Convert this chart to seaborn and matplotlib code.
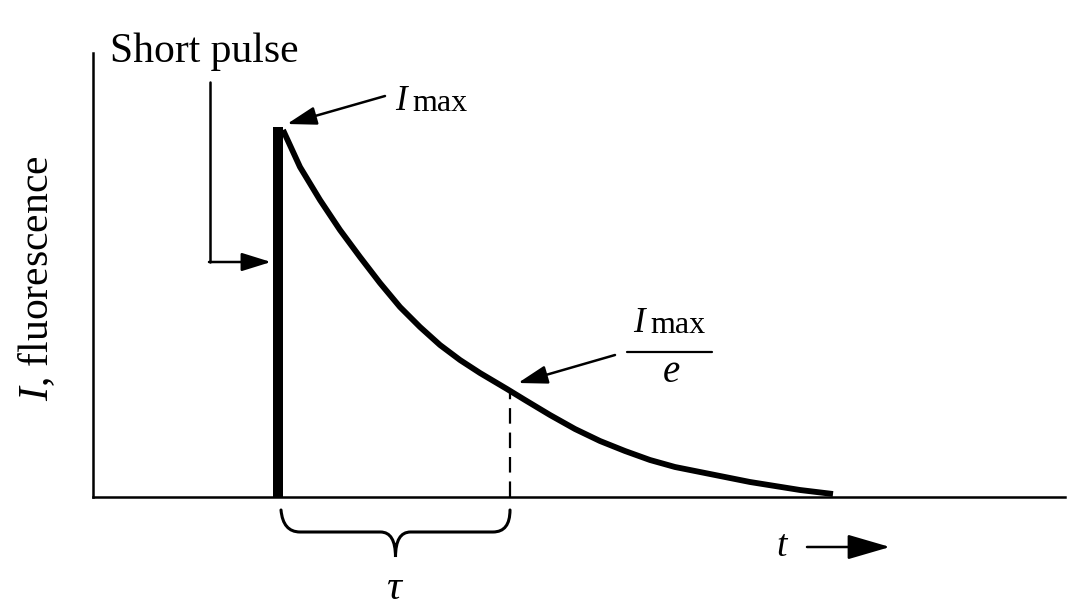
import numpy as np
import matplotlib
matplotlib.use("Agg")
import matplotlib.pyplot as plt
import seaborn as sns
from matplotlib.path import Path
from matplotlib.patches import PathPatch

# decay curve (time, intensity in arbitrary units)
t_decay = [1.90, 2.07, 2.27, 2.47, 2.67, 2.87, 3.07, 3.27, 3.47, 3.67,
           3.87, 4.14, 4.32, 4.57, 4.82, 5.07, 5.32, 5.57, 5.82, 6.07,
           6.32, 6.57, 6.82, 7.07, 7.40]
I_decay = [3.67, 3.30, 2.97, 2.67, 2.40, 2.14, 1.90, 1.70, 1.52, 1.37,
           1.24, 1.08, 0.97, 0.82, 0.68, 0.56, 0.46, 0.37, 0.30, 0.25,
           0.20, 0.15, 0.11, 0.07, 0.03]

t_pulse = 1.85     # excitation pulse position
I_max = 3.70       # pulse / peak height
t_tau = 4.17       # lifetime marker
I_tau = 1.07       # intensity at tau (Imax/e)

sns.set_theme(style="white")
plt.rcParams["font.family"] = ["Liberation Serif", "DejaVu Serif"]
plt.rcParams["text.color"] = "black"
plt.rcParams["mathtext.fontset"] = "custom"
plt.rcParams["mathtext.rm"] = "Liberation Serif"
plt.rcParams["mathtext.it"] = "Liberation Serif:italic"

fig = plt.figure(figsize=(10.8, 6.1), dpi=100)
ax = fig.add_axes([93 / 1080, 113 / 610, 972 / 1080, 444 / 610])

# pulse + decay
ax.bar([t_pulse], [I_max], width=0.10, color="black", linewidth=0)
sns.lineplot(x=t_decay, y=I_decay, ax=ax, color="black", linewidth=4.2,
             solid_capstyle="butt", solid_joinstyle="round")
ax.plot([t_tau, t_tau], [0, I_tau], color="black", lw=1.6,
        dashes=(7, 4))

ax.set_xlim(0, 9.72)
ax.set_ylim(0, 4.44)
ax.set_xticks([])
ax.set_yticks([])
sns.despine(ax=ax)
for s in ("left", "bottom"):
    ax.spines[s].set_color("black")
    ax.spines[s].set_linewidth(1.8)

arrow = dict(arrowstyle="-|>,head_length=0.9,head_width=0.28",
             mutation_scale=20, lw=1.8, color="black",
             shrinkA=0, shrinkB=0)

# short pulse label and its bent arrow
ax.text(0.17, 4.35, "Short pulse", fontsize=30, ha="left", va="baseline",
        clip_on=False)
ax.plot([1.17, 1.17], [4.15, 2.35], color="black", lw=1.8, clip_on=False)
ax.annotate("", xy=(t_pulse - 0.07, 2.35), xytext=(1.16, 2.35),
            arrowprops=arrow, annotation_clip=False)

# I_max label
ax.text(3.02, 3.87, "$I$", fontsize=25, ha="left", va="baseline")
ax.text(3.19, 3.86, "max", fontsize=23, ha="left", va="baseline")
ax.annotate("", xy=(t_pulse + 0.09, 3.73), xytext=(2.92, 4.01),
            arrowprops=arrow, annotation_clip=False)

# I_max / e label
ax.text(5.40, 1.65, "$I$", fontsize=25, ha="left", va="baseline")
ax.text(5.57, 1.64, "max", fontsize=23, ha="left", va="baseline")
ax.plot([5.34, 6.19], [1.45, 1.45], color="black", lw=1.6)
ax.text(5.78, 1.15, "$e$", fontsize=28, ha="center", va="baseline")
ax.annotate("", xy=(t_tau + 0.08, 1.14), xytext=(5.22, 1.42),
            arrowprops=arrow, annotation_clip=False)

# brace under the axis from pulse to tau
l, r = t_pulse + 0.03, t_tau
m = (l + r) / 2
top, flat, tip = -0.13, -0.35, -0.60
verts = [(l, top), (l + 0.02, flat), (l + 0.19, flat),
         (m - 0.15, flat), (m, flat), (m, tip),
         (m, flat), (m + 0.15, flat),
         (r - 0.17, flat), (r, flat), (r, top)]
codes = [Path.MOVETO, Path.CURVE3, Path.CURVE3,
         Path.LINETO, Path.CURVE3, Path.CURVE3,
         Path.CURVE3, Path.CURVE3,
         Path.LINETO, Path.CURVE3, Path.CURVE3]
ax.add_patch(PathPatch(Path(verts, codes), fill=False, lw=2.2,
                       color="black", clip_on=False, capstyle="round"))
ax.text(m, -0.92, r"$\tau$", fontsize=30, ha="center", va="center")

# time arrow
ax.text(6.90, -0.50, "$t$", fontsize=27, ha="center", va="center")
ax.annotate("", xy=(7.97, -0.50), xytext=(7.14, -0.50),
            arrowprops=dict(arrowstyle="-|>,head_length=1.2,head_width=0.35",
                            mutation_scale=22, lw=1.8, color="black",
                            shrinkA=0, shrinkB=0),
            annotation_clip=False)

# y axis label
ax.text(-0.56, 2.19, "$I$, fluorescence", fontsize=30, rotation=90,
        ha="center", va="center")

fig.savefig("out.png", dpi=100, facecolor="white")
